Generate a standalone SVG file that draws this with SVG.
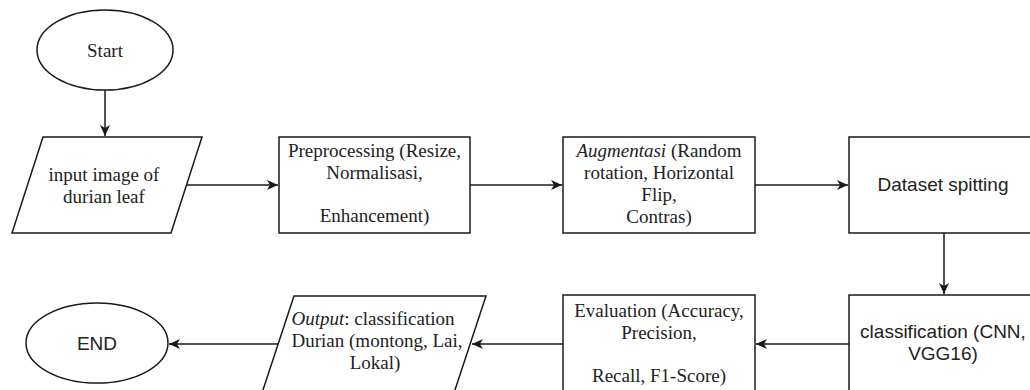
<svg xmlns="http://www.w3.org/2000/svg" width="1030" height="390" viewBox="0 0 1030 390">
<style>
.shape{fill:#fff;stroke:#1a1a1a;stroke-width:1.5}
.serif{font-family:"Liberation Serif","Times New Roman",serif;font-size:19px;fill:#222;text-anchor:middle}
.sans{font-family:"Liberation Sans",Arial,sans-serif;font-size:19px;fill:#222;text-anchor:middle}
.conn{fill:none;stroke:#1a1a1a;stroke-width:1.5}
</style>
<defs>
<marker id="arrow" markerUnits="userSpaceOnUse" markerWidth="12" markerHeight="10" refX="11" refY="5" orient="auto">
<path d="M0,0 L11,5 L0,10 L3,5 Z" fill="#1a1a1a"/>
</marker>
</defs>
<rect width="1030" height="390" fill="#fff"/>
<g id="connectors">
<line class="conn" x1="105" y1="90" x2="105" y2="136" marker-end="url(#arrow)"/>
<line class="conn" x1="186" y1="185" x2="278" y2="185" marker-end="url(#arrow)"/>
<line class="conn" x1="470" y1="185" x2="562" y2="185" marker-end="url(#arrow)"/>
<line class="conn" x1="755" y1="185" x2="848" y2="185" marker-end="url(#arrow)"/>
<line class="conn" x1="944" y1="233" x2="944" y2="294" marker-end="url(#arrow)"/>
<line class="conn" x1="849" y1="344" x2="756" y2="344" marker-end="url(#arrow)"/>
<line class="conn" x1="563" y1="344" x2="472" y2="344" marker-end="url(#arrow)"/>
<line class="conn" x1="279" y1="344" x2="169" y2="344" marker-end="url(#arrow)"/>
</g>
<g id="start">
<ellipse class="shape" cx="105" cy="50" rx="68" ry="40"/>
<text class="serif" x="105" y="57">Start</text>
</g>
<g id="input">
<polygon class="shape" points="43,137 202,137 171,233 12,233"/>
<text class="serif" x="104" y="181">input image of</text>
<text class="serif" x="104" y="203">durian leaf</text>
</g>
<g id="preprocessing">
<rect class="shape" x="279" y="137" width="191" height="96"/>
<text class="serif" x="374.5" y="157">Preprocessing (Resize,</text>
<text class="serif" x="374.5" y="179">Normalisasi,</text>
<text class="serif" x="374.5" y="222">Enhancement)</text>
</g>
<g id="augmentasi">
<rect class="shape" x="563" y="137" width="192" height="96"/>
<text class="serif" x="659" y="157"><tspan font-style="italic">Augmentasi</tspan> (Random</text>
<text class="serif" x="659" y="179">rotation, Horizontal</text>
<text class="serif" x="659" y="201">Flip,</text>
<text class="serif" x="659" y="223">Contras)</text>
</g>
<g id="dataset">
<rect class="shape" x="849" y="137" width="200" height="96"/>
<text class="sans" x="943" y="191">Dataset spitting</text>
</g>
<g id="classification">
<rect class="shape" x="849" y="295" width="200" height="110"/>
<text class="sans" x="943" y="338">classification (CNN,</text>
<text class="sans" x="943" y="360">VGG16)</text>
</g>
<g id="evaluation">
<rect class="shape" x="563" y="295" width="192" height="110"/>
<text class="serif" x="659" y="317">Evaluation (Accuracy,</text>
<text class="serif" x="659" y="339">Precision,</text>
<text class="serif" x="659" y="382">Recall, F1-Score)</text>
</g>
<g id="output">
<polygon class="shape" points="294,296 486,296 451,402 259,402"/>
<text class="serif" x="373" y="325"><tspan font-style="italic">Output</tspan>: classification</text>
<text class="serif" x="377" y="347">Durian (montong, Lai,</text>
<text class="serif" x="375" y="369">Lokal)</text>
</g>
<g id="end">
<ellipse class="shape" cx="97" cy="343" rx="71" ry="40"/>
<text class="sans" x="97" y="350">END</text>
</g>
</svg>
